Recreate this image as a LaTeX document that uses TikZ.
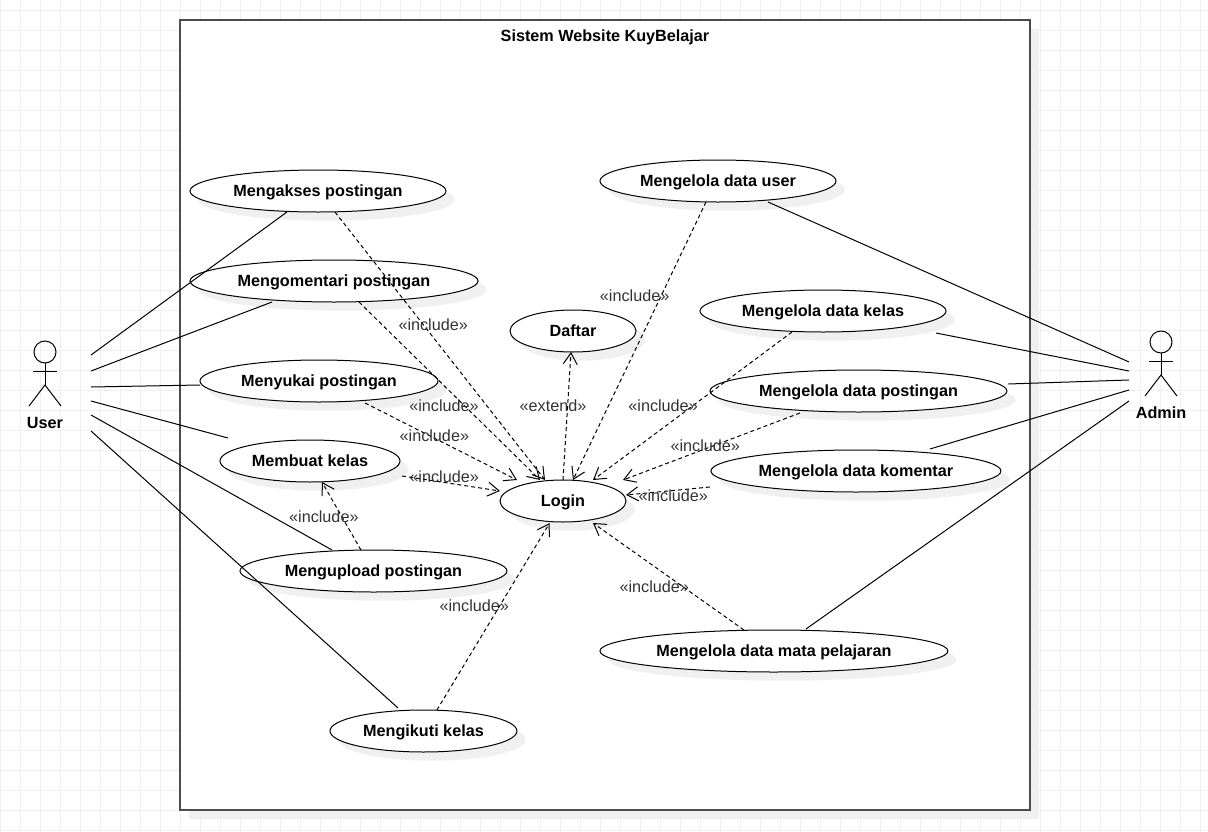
\documentclass[tikz,border=0pt]{standalone}
\usepackage{fontspec}
\setmainfont{Liberation Sans}
\usepackage{tikz}
\usetikzlibrary{shapes,arrows,arrows.meta,positioning,shadows}
\definecolor{gridline}{HTML}{F0F0F0}
\definecolor{shadowgray}{HTML}{F0F0F0}
\tikzstyle{softshadow} = [drop shadow={shadow xshift=6.5pt, shadow yshift=-6.5pt, fill=shadowgray, opacity=1}]
\tikzstyle{textonly} = [draw=none, fill=none, text centered, font=\bfseries\fontsize{12.15pt}{14pt}\selectfont]
\tikzstyle{usecase} = [ellipse, draw=black, line width=.75pt, fill=white, softshadow, inner sep=0pt, outer sep=0pt,
text centered, font=\bfseries\fontsize{12.15pt}{14pt}\selectfont, text height=10.1pt, text depth=2.5pt, minimum height=31.5pt]
\tikzstyle{system} = [rectangle, draw=black!70, line width=1.4pt, fill=white, softshadow, minimum width=637.5pt, minimum height=592.5pt]
\tikzstyle{tlabel} = [text=black!80, font=\fontsize{12.15pt}{14pt}\selectfont]
\tikzstyle{tedge}  = [draw, line width=.75pt, dash pattern=on 3pt off 2.25pt, >={Straight Barb[length=8.5pt,width=10.5pt]}, ->]
\tikzstyle{tlink}  = [draw, line width=.75pt]
\tikzstyle{stick}  = [draw, line width=.75pt]
\begin{document}
\begin{tikzpicture}[x=.75pt, y=-.75pt]
\useasboundingbox (0,0) rectangle (1208,832);

\foreach \xpos in {0,20,...,1200} \draw[gridline, line width=.75pt] (\xpos,0) -- (\xpos,832);
\foreach \ypos in {10,30,...,830} \draw[gridline, line width=.75pt] (0,\ypos) -- (1208,\ypos);

\node[system] (sistem) at (605,415) {};
\node[textonly, below=4.5pt of sistem.north] (judul) {Sistem Website KuyBelajar};

\node[usecase, minimum width=192pt] (mengakses) at (318,191) {Mengakses postingan};
\node[usecase, minimum width=216pt, below=36pt of mengakses, xshift=12pt] (mengomentari) {Mengomentari postingan};
\node[usecase, minimum width=178.5pt, below=43.5pt of mengomentari, xshift=-11.25pt] (menyukai) {Menyukai postingan};
\node[usecase, minimum width=135pt, below=28.5pt of menyukai, xshift=-6.75pt] (membuat) {Membuat kelas};
\node[usecase, minimum width=200.25pt, below=51pt of membuat, xshift=47.6pt] (mengupload) {Mengupload postingan};
\node[usecase, minimum width=140.25pt, below=88.5pt of mengupload, xshift=37.5pt] (mengikuti) {Mengikuti kelas};

\node[usecase, minimum width=177pt] (datauser) at (718,181) {Mengelola data user};
\node[usecase, minimum width=184.5pt, below=66pt of datauser, xshift=78.75pt] (datakelas) {Mengelola data kelas};
\node[usecase, minimum width=222.75pt, below=28.5pt of datakelas, xshift=26.6pt] (datapostingan) {Mengelola data postingan};
\node[usecase, minimum width=217.5pt, below=28.5pt of datapostingan, xshift=-1.9pt] (datakomentar) {Mengelola data komentar};
\node[usecase, minimum width=261pt, below=103.5pt of datakomentar, xshift=-61.5pt] (datamapel) {Mengelola data mata pelajaran};

\node[usecase, minimum width=94.5pt, below=81pt of datauser, xshift=-108.75pt] (daftar) {Daftar};
\node[usecase, minimum width=94.5pt, below=96pt of daftar, xshift=-7.5pt] (login) {Login};

% actors
\node[circle, draw, line width=.75pt, minimum size=16.5pt, inner sep=0pt, outer sep=0pt] (userhead) at (45,352) {};
\coordinate (userhip) at (45,385);
\coordinate (userarml) at (33,371);
\coordinate (userarmr) at (57,371);
\coordinate (userlegl) at (29,406);
\coordinate (userlegr) at (61,406);
\path[stick] (userhead.south) -- (userhip);
\path[stick] (userarml) -- (userarmr);
\path[stick] (userlegl) -- (userhip) -- (userlegr);
\node[textonly, below=20.5pt of userhip] (user) {User};

\node[circle, draw, line width=.75pt, minimum size=16.5pt, inner sep=0pt, outer sep=0pt] (adminhead) at (1161,342) {};
\coordinate (adminhip) at (1161,375);
\coordinate (adminarml) at (1149,361);
\coordinate (adminarmr) at (1173,361);
\coordinate (adminlegl) at (1145,396);
\coordinate (adminlegr) at (1177,396);
\path[stick] (adminhead.south) -- (adminhip);
\path[stick] (adminarml) -- (adminarmr);
\path[stick] (adminlegl) -- (adminhip) -- (adminlegr);
\node[textonly, below=20.5pt of adminhip] (admin) {Admin};

% free ends of the lines
\coordinate (usera) at (91,355);
\coordinate (userb) at (91,371);
\coordinate (userc) at (91,387);
\coordinate (userd) at (91,401);
\coordinate (usere) at (91,415);
\coordinate (userf) at (91,431);
\coordinate (admina) at (1129,362);
\coordinate (adminb) at (1129,371);
\coordinate (adminc) at (1129,380);
\coordinate (admind) at (1129,390);
\coordinate (admine) at (1129,401);

\path[tlink] (usera) -- ([xshift=-23.25pt]mengakses.south);
\path[tlink] (userb) -- ([xshift=-46.5pt]mengomentari.south);
\path[tlink] (userc) -- ([yshift=-3pt]menyukai.west);
\path[tlink] (userd) -- ([xshift=-61.5pt, yshift=1.5pt]membuat.north);
\path[tlink] (usere) -- ([xshift=-31.1pt]mengupload.north);
\path[tlink] (userf) -- ([xshift=-19.1pt, yshift=1.5pt]mengikuti.north);

\path[tlink] ([xshift=37.5pt]datauser.south) -- (admina);
\path[tlink] ([xshift=84.75pt, yshift=-.75pt]datakelas.south) -- (adminb);
\path[tlink] ([xshift=1pt, yshift=5.25pt]datapostingan.east) -- (adminc);
\path[tlink] ([xshift=55.5pt, yshift=.75pt]datakomentar.north) -- (admind);
\path[tlink] ([xshift=24pt, yshift=.75pt]datamapel.north) -- (admine);

\path[tedge] ([xshift=12.75pt]mengakses.south) -- node[tlabel, pos=.42, xshift=7.5pt] {«include»} ([xshift=-13.5pt]login.north);
\path[tedge] ([xshift=18.75pt]mengomentari.south) -- node[tlabel, pos=.58, xshift=-15pt] {«include»} ([xshift=-17.25pt]login.north);
\path[tedge] ([xshift=34.5pt, yshift=-.75pt]menyukai.south) -- node[tlabel, pos=.43, xshift=3pt] {«include»} ([xshift=-34.5pt]login.north);
\path[tedge] ([xshift=1.5pt, yshift=-11.25pt]membuat.east) -- node[tlabel, pos=.43, yshift=4.5pt] {«include»} ([yshift=7.5pt]login.west);
\path[tedge] ([xshift=-9.4pt]mengupload.north) -- node[tlabel, pos=.49, xshift=-13.5pt] {«include»} ([xshift=9pt]membuat.south);
\path[tedge] ([xshift=10.1pt]mengikuti.north) -- node[tlabel, pos=.556, xshift=-19pt] {«include»} ([xshift=-10pt, yshift=-.75pt]login.south);
\path[tedge] ([xshift=-9pt]datauser.south) -- node[tlabel, pos=.336, xshift=-20pt] {«include»} ([xshift=7.5pt]login.north);
\path[tedge] ([xshift=-23.25pt]datakelas.south) -- node[tlabel, pos=.497, xshift=-22.5pt] {«include»} ([xshift=22.5pt]login.north);
\path[tedge] ([xshift=-43.9pt, yshift=-.75pt]datapostingan.south) -- node[tlabel, pos=.49, xshift=-6pt] {«include»} ([xshift=45pt]login.north);
\path[tedge] ([xshift=-.75pt, yshift=-12pt]datakomentar.west) -- node[tlabel, pos=.5, xshift=4pt, yshift=-3.75pt] {«include»} ([yshift=4.5pt]login.east);
\path[tedge] ([xshift=-22.5pt]datamapel.north) -- node[tlabel, pos=.4, xshift=-22pt] {«include»} ([xshift=22.5pt, yshift=-.75pt]login.south);
\path[tedge] (login.north) -- node[tlabel, pos=.58, xshift=-11pt] {«extend»} ([xshift=-1.5pt]daftar.south);

\end{tikzpicture}
\end{document}
